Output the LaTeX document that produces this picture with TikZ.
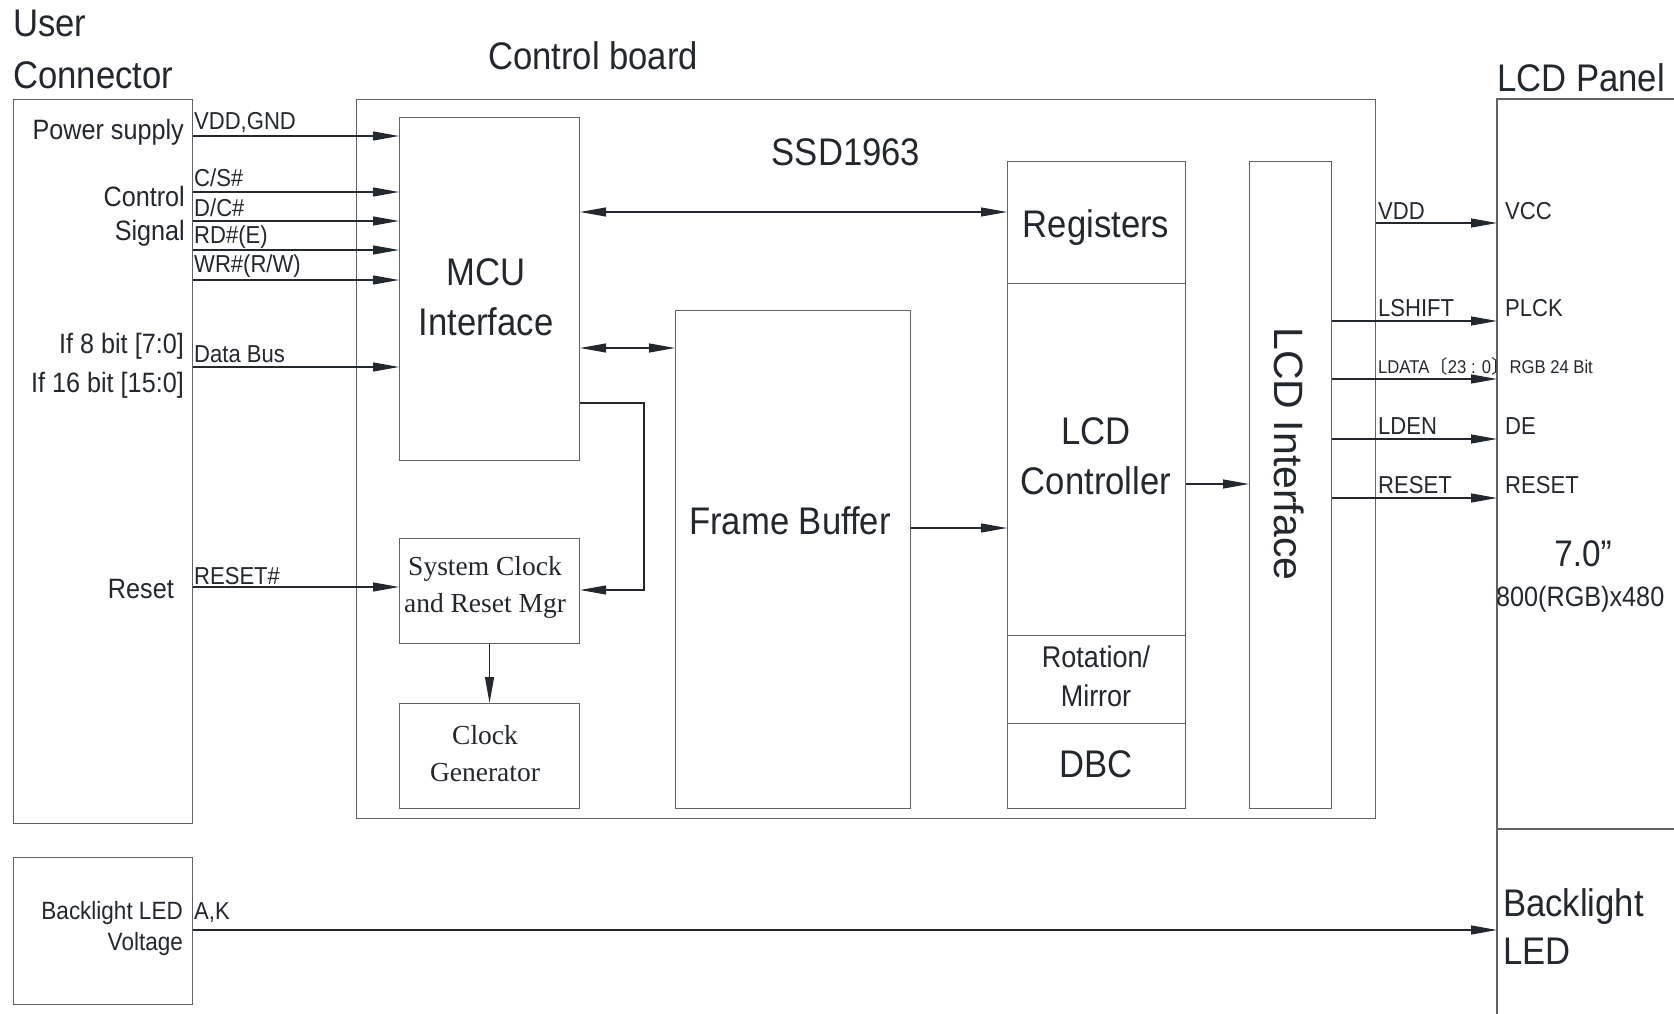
\documentclass[tikz,border=0pt]{standalone}
\usepackage{fontspec}
\setmainfont{Liberation Sans}[FakeStretch=0.9]
\newfontfamily\widesans{Liberation Sans}
\newfontfamily\serifx{Liberation Serif}
\newfontfamily\cjk{Noto Sans CJK SC}
\usetikzlibrary{arrows.meta}
\definecolor{ink}{RGB}{35,40,46}
\definecolor{edge}{RGB}{95,99,104}
\newcommand\fz[1]{\fontsize{#1}{#1}\selectfont}
\begin{document}
\begin{tikzpicture}[x=1pt,y=-1pt,
  blk/.style={draw=edge, line width=1.1pt, inner sep=0pt, anchor=north west},
  arr/.style={draw=ink, line width=1.1pt, -{Triangle[length=26pt,width=9pt]}},
  darr/.style={draw=ink, line width=1.1pt, {Triangle[length=26pt,width=9pt]}-{Triangle[length=26pt,width=9pt]}},
  ln/.style={draw=ink, line width=1.1pt},
  big/.style={text=ink, inner sep=0pt, anchor=base, font=\fz{38.5}},
  mid/.style={text=ink, inner sep=0pt, font=\fz{28}},
  sml/.style={text=ink, inner sep=0pt, font=\fz{24.5}},
  ser/.style={text=ink, inner sep=0pt, anchor=base, font=\serifx\fz{27.5}}
]
\useasboundingbox (0,0) rectangle (1674,1014);
\fill[white] (0,0) rectangle (1674,1014);

% ---------- boxes ----------
\node[blk, minimum width=179pt, minimum height=724pt] (uc) at (13,99) {};
\node[blk, minimum width=179pt, minimum height=147pt] (bl) at (13,857) {};
\node[blk, minimum width=1019pt, minimum height=719pt] (cb) at (356,99) {};
\node[blk, minimum width=180pt, minimum height=343pt] (mcu) at (399,117) {};
\node[blk, minimum width=180pt, minimum height=105pt] (scr) at (399,538) {};
\node[blk, minimum width=180pt, minimum height=105pt] (cg) at (399,703) {};
\node[blk, minimum width=235pt, minimum height=498pt] (fb) at (675,310) {};
\node[blk, minimum width=178pt, minimum height=122pt] (reg) at (1007,161) {};
\node[blk, minimum width=178pt, minimum height=352pt] (lcdc) at (1007,283) {};
\node[blk, minimum width=178pt, minimum height=88pt] (rot) at (1007,635) {};
\node[blk, minimum width=178pt, minimum height=85pt] (dbc) at (1007,723) {};
\node[blk, minimum width=82pt, minimum height=647pt] (lcdi) at (1249,161) {};

% LCD panel outline (runs off the picture)
\coordinate (pTL) at (1497,99);
\coordinate (pTR) at (1674,99);
\coordinate (pBL) at (1497,1014);
\coordinate (pML) at (1497,829);
\coordinate (pMR) at (1674,829);
\draw[draw=edge, line width=1.1pt] (pTR) -- (pTL) -- (pBL);
\draw[draw=edge, line width=1.1pt] (pML) -- (pMR);

% ---------- titles ----------
\node[big, anchor=base west] (tUser) at (13,37) {User};
\node[big, anchor=base west] (tConn) at (13,89) {Connector};
\node[big] (tCB) at (593,70) {Control board};
\node[big, anchor=base west] (tPanel) at (1497,92) {LCD Panel};

% ---------- block texts ----------
\node[big] (tSSD) at (846,165) {SSD1963};
\node[big] (tMCU1) at (486,285) {MCU};
\node[big] (tMCU2) at (486,335) {Interface};
\node[big] (tReg) at (1096,237) {Registers};
\node[big] (tLC1) at (1096,444) {LCD};
\node[big] (tLC2) at (1096,494) {Controller};
\node[text=ink, inner sep=0pt, anchor=base, font=\fz{30}] (tRot1) at (1096,667) {Rotation/};
\node[text=ink, inner sep=0pt, anchor=base, font=\fz{30}] (tRot2) at (1096,706) {Mirror};
\node[big] (tDBC) at (1096,777) {DBC};
\node[big] (tFB) at (790,534) {Frame Buffer};
\node[text=ink, inner sep=0pt, anchor=base, rotate=-90, font=\widesans\fz{41}] (tLI) at (1274.5,454) {LCD Interface};
\node[ser] (tS1) at (485,575) {System Clock};
\node[ser] (tS2) at (485,612) {and Reset Mgr};
\node[ser] (tC1) at (485,744) {Clock};
\node[ser] (tC2) at (485,781) {Generator};

% ---------- user connector labels ----------
\node[mid, anchor=base east] (lPow) at (184,140) {Power supply};
\node[mid, anchor=base east] (lCtl) at (185,206) {Control};
\node[mid, anchor=base east] (lSig) at (185,240) {Signal};
\node[mid, anchor=base east] (l8) at (184,353) {If 8 bit [7:0]};
\node[mid, anchor=base east] (l16) at (184,392) {If 16 bit [15:0]};
\node[mid, anchor=base east] (lRst) at (174,598) {Reset};
\node[text=ink, inner sep=0pt, anchor=base east, font=\fz{25}] (lBL1) at (183,919) {Backlight LED};
\node[text=ink, inner sep=0pt, anchor=base east, font=\fz{25}] (lBL2) at (183,950) {Voltage};

% ---------- signal labels ----------
\node[sml, anchor=base west] (sVDD) at (194,130) {VDD,GND};
\node[sml, anchor=base west] (sCS) at (194,186) {C/S\#};
\node[sml, anchor=base west] (sDC) at (194,216) {D/C\#};
\node[sml, anchor=base west] (sRD) at (194,243.5) {RD\#(E)};
\node[sml, anchor=base west] (sWR) at (194,272) {WR\#(R/W)};
\node[sml, anchor=base west] (sDB) at (194,362) {Data Bus};
\node[sml, anchor=base west] (sRS) at (194,584) {RESET\#};
\node[sml, anchor=base west] (sAK) at (194,919) {A,K};

% ---------- right-hand labels ----------
\node[sml, anchor=base west] (rVDD) at (1378,219) {VDD};
\node[sml, anchor=base west] (rLS) at (1378,316) {LSHIFT};
\node[text=ink, inner sep=0pt, anchor=base west, font=\fz{18.5}] (rLD) at (1378,373) {LDATA{\cjk 〔}23 : 0{\cjk 〕}RGB 24 Bit};
\node[sml, anchor=base west] (rLE) at (1378,434) {LDEN};
\node[sml, anchor=base west] (rRS) at (1378,493) {RESET};
\node[sml, anchor=base west] (pVCC) at (1505,219) {VCC};
\node[sml, anchor=base west] (pPL) at (1505,316) {PLCK};
\node[sml, anchor=base west] (pDE) at (1505,434) {DE};
\node[sml, anchor=base west] (pRS) at (1505,493) {RESET};
\node[text=ink, inner sep=0pt, anchor=base, font=\fz{37}] (p7) at (1583,566) {7.0\char34};
\node[mid, anchor=base west] (pRes) at (1496,606) {800(RGB)x480};
\node[big, anchor=base west] (pBL1) at (1503,916) {Backlight};
\node[big, anchor=base west] (pBL2) at (1503,964) {LED};

% ---------- connectors ----------
\foreach \yy in {136,192,221,250,280,367}{
  \coordinate (cy\yy) at (0,\yy);
  \draw[arr] (uc.east |- cy\yy) -- (mcu.west |- cy\yy);
}
\coordinate (cy587) at (0,587);
\draw[arr] (uc.east |- cy587) -- (scr.west |- cy587);

\coordinate (cy212) at (0,212);
\draw[darr] (mcu.east |- cy212) -- (reg.west |- cy212);
\coordinate (cy348) at (0,348);
\draw[darr] (mcu.east |- cy348) -- (fb.west |- cy348);

\coordinate (k1) at (644,403);
\coordinate (k2) at (644,590);
\draw[arr] (mcu.east |- k1) -- (k1) -- (k2) -- (scr.east |- k2);
\draw[arr] (scr.south) -- (cg.north);

\coordinate (cy528) at (0,528);
\draw[arr] (fb.east |- cy528) -- (lcdc.west |- cy528);
\coordinate (cy484) at (0,484);
\draw[arr] (lcdc.east |- cy484) -- (lcdi.west |- cy484);

\coordinate (cy223) at (0,223);
\draw[arr] (cb.east |- cy223) -- (pTL |- cy223);
\foreach \yy in {321,379,439,498}{
  \coordinate (cr\yy) at (0,\yy);
  \draw[arr] (lcdi.east |- cr\yy) -- (pTL |- cr\yy);
}
\coordinate (cy930) at (0,930);
\draw[arr] (bl.east |- cy930) -- (pTL |- cy930);
\end{tikzpicture}
\end{document}
